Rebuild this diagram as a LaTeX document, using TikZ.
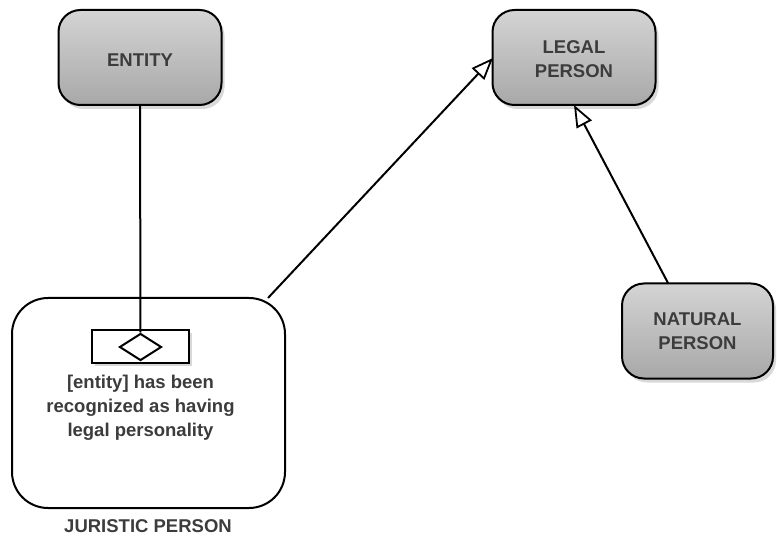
\documentclass[tikz,border=0pt]{standalone}
\usepackage{fontspec}
\setmainfont{Liberation Sans}
\usetikzlibrary{arrows.meta,shadows,calc,shapes.geometric}
\definecolor{txtgray}{HTML}{3C3C3C}
\definecolor{boxtop}{HTML}{D4D4D4}
\definecolor{boxbot}{HTML}{A8A8A8}
\tikzset{
  concept/.style={draw=black, line width=2pt, rounded corners=22pt,
    top color=boxtop, bottom color=boxbot,
    minimum width=163pt, minimum height=95pt, align=center,
    font=\fontsize{18.5}{24}\selectfont\bfseries, text=txtgray,
    drop shadow={shadow xshift=3pt, shadow yshift=-4pt, opacity=0.3, fill=gray}},
  conceptname/.style={font=\fontsize{18.5}{24}\selectfont\bfseries, text=txtgray, align=center},
  container/.style={draw=black, line width=2pt, rounded corners=36pt, fill=white},
  slot/.style={draw=black, line width=2pt, fill=white,
    drop shadow={shadow xshift=3pt, shadow yshift=-3pt, opacity=0.3, fill=gray}},
  caption/.style={font=\fontsize{18.5}{24}\selectfont\bfseries, text=txtgray, align=center},
  link/.style={line width=2pt, draw=black},
  isa/.style={link, -{Triangle[length=22pt,width=17pt,fill=white,line width=1.8pt]}}
}
\begin{document}
\begin{tikzpicture}[x=1pt,y=-1pt]
  \useasboundingbox (0,0) rectangle (777,540);

  % juristic person frame with its attribute slot
  \node[container, minimum width=273pt, minimum height=210pt] (jur) at (148.5,403) {};
  \node[caption, anchor=base] (jurlabel) at (148,532) {JURISTIC PERSON};
  \node[slot, minimum width=97pt, minimum height=33pt, inner sep=0pt] (slot) at (140.5,346.5) {};
  \node[draw=black, line width=2pt, diamond, shape aspect=1.6, inner sep=0pt,
        minimum width=42pt, minimum height=27pt] (dia) at (140.5,347) {};
  \node[caption, anchor=north] (desc) at (140.5,371.5) {[entity] has been\\recognized as having\\legal personality};

  % concepts
  \node[concept, label={[conceptname, yshift=-3pt]center:ENTITY}] (entity) at (140,57.5) {};
  \node[concept, label={[conceptname, yshift=-2pt]center:LEGAL\\PERSON}] (legal) at (574,57.5) {};
  \node[concept, minimum width=151pt] (natural) at (697.5,331) {NATURAL\\PERSON};

  % connectors
  \coordinate (jurcorner) at (268,298);
  \coordinate (legalin) at (493,58);
  \coordinate (natstart) at (668,283);
  \coordinate (legalbelow) at (574,105);
  \draw[link] (entity.south) -- (dia.north);
  \draw[isa] (jurcorner) -- (legalin);
  \draw[isa] (natstart) -- (legalbelow);
\end{tikzpicture}
\end{document}
